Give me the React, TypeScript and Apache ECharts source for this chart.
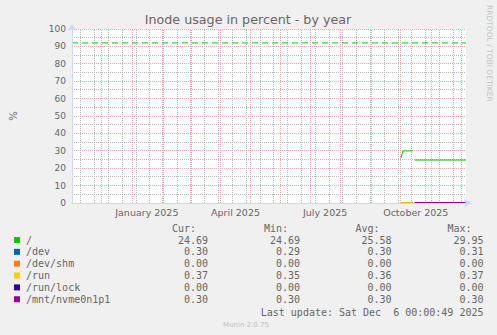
import React, { useEffect, useRef } from "react";
import * as echarts from "echarts";

const chartTitle = "Inode usage in percent - by year";
const yAxisName = "%";
const sideText = "RRDTOOL / TOBI OETIKER";
const footerText = "Munin 2.0.75";
const lastUpdate = "Last update: Sat Dec  6 00:00:49 2025";

const axisStart = "2024-11-01";
const axisEnd = "2025-12-06";
const yMin = 0;
const yMax = 100;
const yInterval = 10;

const monthLines = [
  "2024-12-01", "2025-01-01", "2025-02-01", "2025-03-01", "2025-04-01", "2025-05-01",
  "2025-06-01", "2025-07-01", "2025-08-01", "2025-09-01", "2025-10-01", "2025-11-01", "2025-12-01",
];
const minorLines = [
  "2024-11-10", "2024-11-24", "2024-12-08", "2024-12-22", "2025-01-05", "2025-01-19",
  "2025-02-02", "2025-02-16", "2025-03-02", "2025-03-16", "2025-03-30", "2025-04-13",
  "2025-04-27", "2025-05-11", "2025-05-25", "2025-06-08", "2025-06-22", "2025-07-06",
  "2025-07-20", "2025-08-03", "2025-08-17", "2025-08-31", "2025-09-14", "2025-09-28",
  "2025-10-12", "2025-10-26", "2025-11-09", "2025-11-23",
];
const yMajorLines = [10, 20, 30, 40, 50, 60, 70, 80, 90, 100];
const yMinorLines = [5, 15, 25, 35, 45, 55, 65, 75, 85, 95];
const xLabelDates = ["2025-01-16", "2025-04-16", "2025-07-16", "2025-10-16"];
const xLabels = ["January 2025", "April 2025", "July 2025", "October 2025"];

const warnTimes = [axisStart, axisEnd];
const warnValues = [92, 92];

const seriesNames = ["/", "/dev", "/dev/shm", "/run", "/run/lock", "/mnt/nvme0n1p1"];
const seriesColors = ["#00CC00", "#0066B3", "#FF8000", "#FFCC00", "#330099", "#990099"];

const rootTimes = ["2025-10-01", "2025-10-03", "2025-10-13", "2025-10-14", "2025-10-15", "2025-12-06"];
const rootValues = [25.8, 29.9, 29.95, null, 24.69, 24.69];
const devTimes = ["2025-10-01", "2025-10-13", "2025-10-14", "2025-10-15", "2025-12-06"];
const devValues = [0.29, 0.31, null, 0.3, 0.3];
const shmTimes = ["2025-10-01", "2025-10-13", "2025-10-14", "2025-10-15", "2025-12-06"];
const shmValues = [0, 0, null, 0, 0];
const runTimes = ["2025-10-01", "2025-10-13", "2025-10-14", "2025-10-15", "2025-12-06"];
const runValues = [0.35, 0.36, null, 0.37, 0.37];
const lockTimes = ["2025-10-01", "2025-10-13", "2025-10-14", "2025-10-15", "2025-12-06"];
const lockValues = [0, 0, null, 0, 0];
const nvmeTimes = ["2025-10-15", "2025-12-06"];
const nvmeValues = [0.3, 0.3];

const seriesTimes = [rootTimes, devTimes, shmTimes, runTimes, lockTimes, nvmeTimes];
const seriesValues = [rootValues, devValues, shmValues, runValues, lockValues, nvmeValues];

const legendHeaders = ["Cur:", "Min:", "Avg:", "Max:"];
const curValues = ["24.69", "0.30", "0.00", "0.37", "0.00", "0.30"];
const minValues = ["24.69", "0.29", "0.00", "0.35", "0.00", "0.30"];
const avgValues = ["25.58", "0.30", "0.00", "0.36", "0.00", "0.30"];
const maxValues = ["29.95", "0.31", "0.00", "0.37", "0.00", "0.30"];

const t = (s: string) => Date.parse(s);

const FONT = '"DejaVu Sans", sans-serif';
const MONO = '"DejaVu Sans Mono", monospace';
const TEXT = "#666666";
const MAJOR = "#eeaaaa";
const MINOR = "#b8b8b8";
const AXIS = "#CFD6F8";

export default function App() {
  const ref = useRef<HTMLDivElement>(null);
  useEffect(() => {
    if (!ref.current) return;
    const chart = echarts.init(ref.current, undefined, { renderer: "svg" });

    const gridLeft = 66;
    const gridTop = 29;
    const gridW = 400;
    const gridH = 174;

    const valueCols = [curValues, minValues, avgValues, maxValues];
    const colRight = [208, 300, 391.5, 483.5];
    const headerY = 228;
    const rowY0 = 240;
    const rowDy = 11.85;

    const textEls: any[] = [];
    textEls.push({
      type: "text", x: 248, y: 19.5,
      style: { text: chartTitle, font: `12.7px ${FONT}`, fill: TEXT, align: "center", verticalAlign: "middle" },
    });
    textEls.push({
      type: "text", x: 489.5, y: 5, rotation: -Math.PI / 2,
      style: { text: sideText, font: `7.5px ${FONT}`, fill: "#c4c4c4", align: "left", verticalAlign: "middle" },
    });
    legendHeaders.forEach((h, i) => {
      textEls.push({
        type: "text", x: colRight[i] - 12, y: headerY,
        style: { text: h, font: `10px ${MONO}`, fill: TEXT, align: "right", verticalAlign: "middle" },
      });
    });
    seriesNames.forEach((name, r) => {
      const y = rowY0 + r * rowDy;
      textEls.push({ type: "rect", shape: { x: 14, y: y - 3, width: 6, height: 6 }, style: { fill: seriesColors[r] } });
      textEls.push({
        type: "text", x: 26, y,
        style: { text: name, font: `10px ${MONO}`, fill: TEXT, align: "left", verticalAlign: "middle" },
      });
      valueCols.forEach((col, c) => {
        textEls.push({
          type: "text", x: colRight[c], y,
          style: { text: col[r], font: `10px ${MONO}`, fill: TEXT, align: "right", verticalAlign: "middle" },
        });
      });
    });
    textEls.push({
      type: "text", x: colRight[3], y: 312.5,
      style: { text: lastUpdate, font: `10px ${MONO}`, fill: TEXT, align: "right", verticalAlign: "middle" },
    });
    textEls.push({
      type: "text", x: 246, y: 324.5,
      style: { text: footerText, font: `7px ${FONT}`, fill: "#c0c0c0", align: "center", verticalAlign: "middle" },
    });

    // rrdtool draws /run above the zero-valued lines (those sit under the axis)
    const drawOrder = [0, 1, 2, 4, 3, 5];

    const series: any[] = seriesNames.map((name, i) => ({
      name,
      type: "line",
      showSymbol: false,
      connectNulls: false,
      color: seriesColors[i],
      lineStyle: { width: 1, color: seriesColors[i] },
      data: seriesTimes[i].map((d, k) => [t(d), seriesValues[i][k]]),
      z: 3 + drawOrder.indexOf(i) * 0.1,
    }));
    series.push({
      name: "warning",
      type: "line",
      showSymbol: false,
      silent: true,
      color: seriesColors[0],
      lineStyle: { width: 1, color: seriesColors[0], type: [6, 4] },
      data: warnTimes.map((d, k) => [t(d), warnValues[k]]),
      z: 3,
    });

    chart.setOption({
      animation: false,
      backgroundColor: "#F0F0F0",
      graphic: { elements: textEls },
      grid: {
        left: gridLeft, top: gridTop, width: gridW, height: gridH,
        show: true, backgroundColor: "#FFFFFF", borderWidth: 0,
      },
      xAxis: {
        type: "value",
        min: t(axisStart),
        max: t(axisEnd),
        z: 10,
        axisLine: {
          show: true,
          lineStyle: { color: AXIS, width: 1 },
          symbol: ["none", "arrow"],
          symbolSize: [7, 7],
          symbolOffset: [0, 5],
        },
        axisTick: { show: false, customValues: xLabelDates.map(t) },
        splitLine: { show: false },
        axisLabel: {
          show: true,
          customValues: xLabelDates.map(t),
          margin: 4,
          color: TEXT,
          fontSize: 9.5,
          fontFamily: FONT,
          formatter: (v: number) => {
            const idx = xLabelDates.findIndex((d) => t(d) === v);
            return idx >= 0 ? xLabels[idx] : "";
          },
        },
      },
      yAxis: {
        type: "value",
        min: yMin,
        max: yMax,
        interval: yInterval,
        z: 10,
        name: yAxisName,
        nameLocation: "middle",
        nameGap: 54,
        nameRotate: 90,
        nameTextStyle: { color: TEXT, fontSize: 10, fontFamily: FONT },
        axisLine: {
          show: true,
          lineStyle: { color: AXIS, width: 1 },
          symbol: ["none", "arrow"],
          symbolSize: [7, 7],
          symbolOffset: [0, 5],
        },
        axisTick: { show: false },
        axisLabel: { color: TEXT, fontSize: 9, fontFamily: FONT, margin: 6 },
        splitLine: { show: false },
      },
      series,
    });

    // Grid lines placed through the chart's own scales
    const px = (v: number) => chart.convertToPixel({ xAxisIndex: 0 }, v) as number;
    const py = (v: number) => chart.convertToPixel({ yAxisIndex: 0 }, v) as number;
    const crisp = (p: number) => Math.round(p - 0.5) + 0.5;
    const xL = px(t(axisStart));
    const xR = px(t(axisEnd));
    const yB = py(yMin);
    const yT = py(yMax);

    const vLine = (v: number, color: string) => {
      const x = crisp(px(v));
      return {
        type: "line", silent: true, z: 1,
        shape: { x1: x, y1: yB, x2: x, y2: yT },
        style: { stroke: color, lineWidth: 1, lineDash: [1, 1] },
      };
    };
    const hLine = (v: number, color: string) => {
      const y = crisp(py(v));
      return {
        type: "line", silent: true, z: 1,
        shape: { x1: xL, y1: y, x2: xR, y2: y },
        style: { stroke: color, lineWidth: 1, lineDash: [1, 1] },
      };
    };
    const gridEls: any[] = [
      ...minorLines.map((d) => vLine(t(d), MINOR)),
      ...yMinorLines.map((v) => hLine(v, MINOR)),
      ...monthLines.map((d) => vLine(t(d), MAJOR)),
      ...yMajorLines.map((v) => hLine(v, MAJOR)),
    ];

    chart.setOption({ graphic: { elements: [...textEls, ...gridEls] } }, { replaceMerge: ["graphic"] });

    return () => chart.dispose();
  }, []);

  return (
    <div
      ref={ref}
      style={{ position: "fixed", left: 0, top: 0, width: 497, height: 335 }}
    />
  );
}
